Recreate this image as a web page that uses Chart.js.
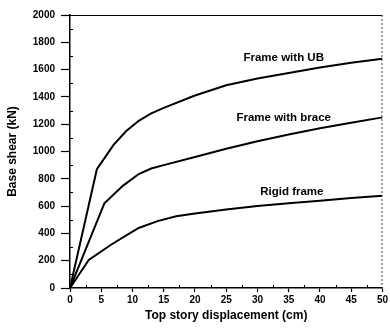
<!DOCTYPE html>
<html>
<head>
<meta charset="utf-8">
<script src="https://cdn.jsdelivr.net/npm/chart.js@4/dist/chart.umd.min.js"></script>
<style>
  html, body { margin: 0; padding: 0; background: #fff; }
  #wrap { width: 390px; height: 329px; }
</style>
</head>
<body>
<div id="wrap"><canvas id="c" width="390" height="329"></canvas></div>
<script>
// ---- data ----
const seriesNames = ['Frame with UB', 'Frame with brace', 'Rigid frame'];

const ubX = [0, 4.3, 7, 9, 11, 13, 15, 20, 25, 30, 35, 40, 45, 50];
const ubY = [0, 870, 1050, 1150, 1225, 1280, 1320, 1410, 1485, 1535, 1575, 1615, 1650, 1680];

const braceX = [0, 5.5, 8.5, 11, 13, 15, 20, 25, 30, 35, 40, 45, 50];
const braceY = [0, 620, 750, 835, 875, 900, 960, 1020, 1075, 1125, 1170, 1210, 1250];

const rigidX = [0, 3, 6.5, 9, 11, 14, 17, 20, 25, 30, 35, 40, 45, 50];
const rigidY = [0, 205, 315, 385, 440, 490, 525, 545, 575, 600, 620, 640, 660, 675];

const xTicks = [0, 5, 10, 15, 20, 25, 30, 35, 40, 45, 50];
const yTicks = [0, 200, 400, 600, 800, 1000, 1200, 1400, 1600, 1800, 2000];

const xTitle = 'Top story displacement (cm)';
const yTitle = 'Base shear (kN)';

// label anchor points in data units (x, y)
const labelAnchorX = [34.2, 34.2, 35.5];
const labelAnchorY = [1685, 1245, 703];

const toPts = (xs, ys) => xs.map((x, i) => ({ x: x, y: ys[i] }));

const FONT = "'Liberation Sans', Arial, sans-serif";

const lineStyle = {
  borderColor: '#000',
  borderWidth: 2,
  pointRadius: 0,
  fill: false,
  tension: 0
};

const decor = {
  id: 'decor',
  afterDraw(chart) {
    const { ctx, chartArea: a, scales: { x, y } } = chart;
    ctx.save();
    // top border (solid)
    ctx.strokeStyle = '#000';
    ctx.lineWidth = 1.2;
    ctx.beginPath();
    ctx.moveTo(a.left, a.top + 0.5);
    ctx.lineTo(a.right, a.top + 0.5);
    ctx.stroke();
    // right border (dashed)
    ctx.setLineDash([2, 2]);
    ctx.lineWidth = 1;
    ctx.strokeStyle = '#444';
    ctx.beginPath();
    ctx.moveTo(a.right - 0.5, a.top);
    ctx.lineTo(a.right - 0.5, a.bottom);
    ctx.stroke();
    ctx.setLineDash([]);
    // minor ticks
    ctx.strokeStyle = '#000';
    ctx.lineWidth = 1;
    for (let v = 100; v < 2000; v += 200) {
      const py = Math.round(y.getPixelForValue(v)) + 0.5;
      ctx.beginPath();
      ctx.moveTo(a.left, py);
      ctx.lineTo(a.left + 3, py);
      ctx.stroke();
    }
    for (let v = 2.5; v < 50; v += 5) {
      const px = Math.round(x.getPixelForValue(v)) + 0.5;
      ctx.beginPath();
      ctx.moveTo(px, a.bottom);
      ctx.lineTo(px, a.bottom - 3);
      ctx.stroke();
    }
    // series labels
    ctx.fillStyle = '#000';
    ctx.font = 'bold 11.5px ' + FONT;
    ctx.textAlign = 'center';
    ctx.textBaseline = 'middle';
    seriesNames.forEach((n, i) => {
      ctx.fillText(n, x.getPixelForValue(labelAnchorX[i]), y.getPixelForValue(labelAnchorY[i]));
    });
    ctx.restore();
  }
};

new Chart(document.getElementById('c'), {
  type: 'line',
  data: {
    datasets: [
      Object.assign({ label: seriesNames[0], data: toPts(ubX, ubY) }, lineStyle),
      Object.assign({ label: seriesNames[1], data: toPts(braceX, braceY) }, lineStyle),
      Object.assign({ label: seriesNames[2], data: toPts(rigidX, rigidY) }, lineStyle)
    ]
  },
  options: {
    responsive: false,
    animation: false,
    devicePixelRatio: 1,
    layout: { padding: { top: 15, right: 6, left: 0, bottom: 0 } },
    plugins: { legend: { display: false }, tooltip: { enabled: false } },
    scales: {
      x: {
        type: 'linear',
        min: 0, max: 50,
        afterBuildTicks: s => { s.ticks = xTicks.map(v => ({ value: v })); },
        afterFit: s => { s.height = 41; },
        grid: { drawOnChartArea: false, drawTicks: true, tickLength: 4, color: '#000', tickWidth: 1.2 },
        border: { display: true, color: '#000', width: 1.5 },
        ticks: { color: '#000', padding: 2, maxRotation: 0, autoSkip: false, callback: v => String(v), font: { family: FONT, size: 10, weight: 'bold' } },
        title: { display: true, text: xTitle, color: '#000', padding: { top: 0, bottom: 6 }, font: { family: FONT, size: 12, weight: 'bold' } }
      },
      y: {
        type: 'linear',
        min: 0, max: 2000,
        afterBuildTicks: s => { s.ticks = yTicks.map(v => ({ value: v })); },
        afterFit: s => { s.width = 70; },
        grid: { drawOnChartArea: false, drawTicks: true, tickLength: 9, color: '#000', tickWidth: 1.2 },
        border: { display: true, color: '#000', width: 1.5 },
        ticks: { color: '#000', padding: 6, autoSkip: false, callback: v => String(v), font: { family: FONT, size: 10, weight: 'bold' } },
        title: { display: true, text: yTitle, color: '#000', padding: { top: 5, bottom: 0 }, font: { family: FONT, size: 12, weight: 'bold' } }
      }
    }
  },
  plugins: [decor]
});
</script>
</body>
</html>
